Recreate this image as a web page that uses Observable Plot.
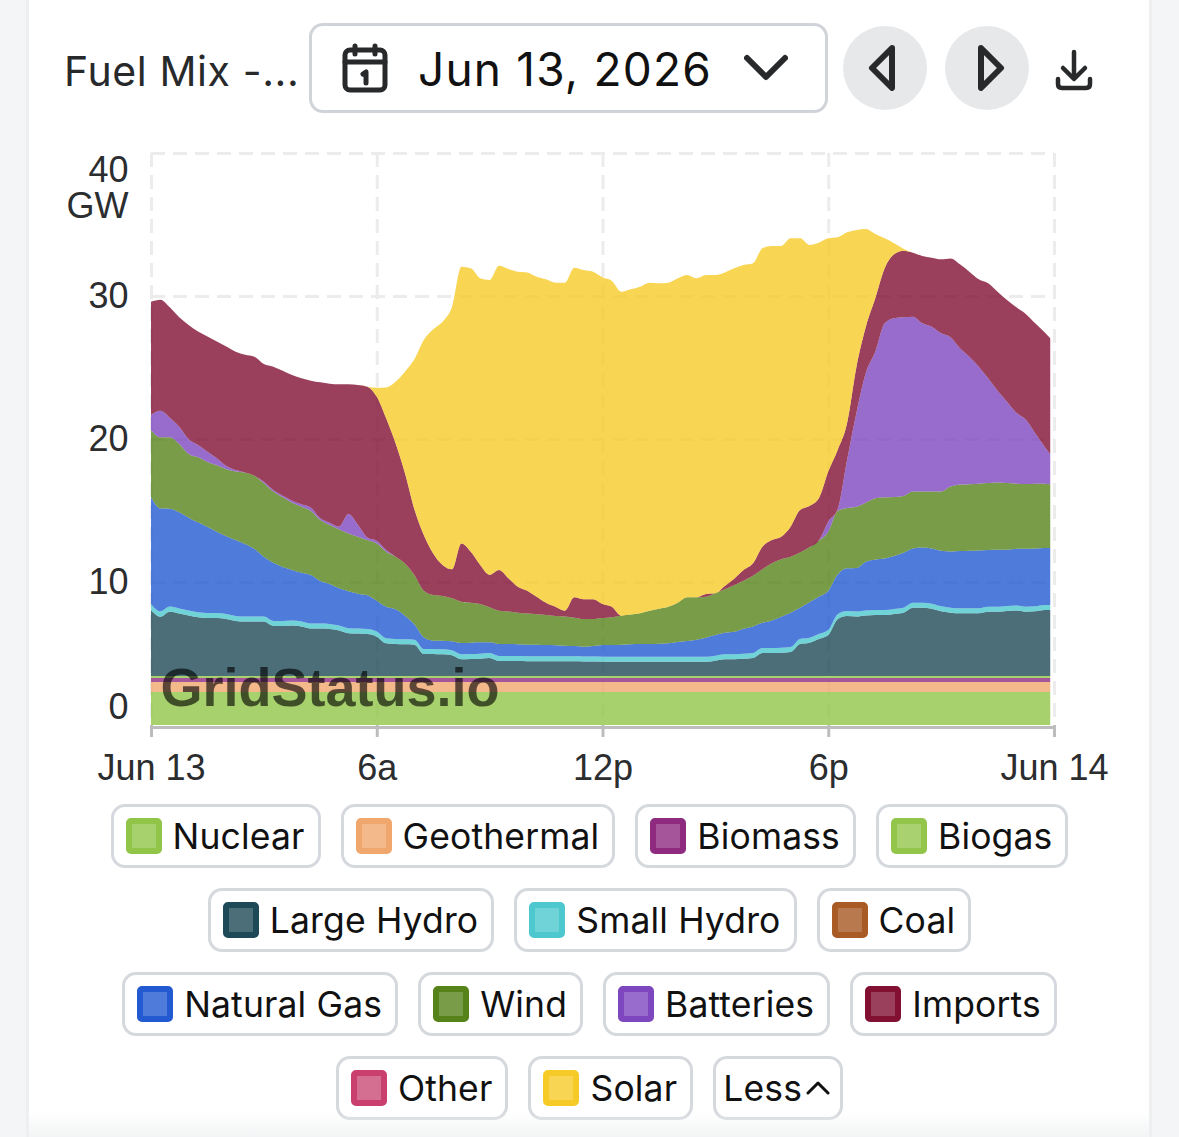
<!DOCTYPE html>
<html><head><meta charset="utf-8">
<script src="https://cdn.jsdelivr.net/npm/d3@7"></script>
<script src="https://cdn.jsdelivr.net/npm/@observablehq/plot@0.6"></script>
<style>
html,body{margin:0;padding:0;background:#f4f5f6;overflow:hidden;width:1179px;height:1137px}
#card{position:absolute;left:26px;top:-30px;width:1126px;height:1300px;background:#fff;border:3px solid #eeeff0;border-radius:26px;box-sizing:border-box}
#fade{position:absolute;left:29px;top:1112px;width:1120px;height:25px;background:linear-gradient(#fff0,#f3f4f5)}
#page{position:relative;width:1179px}
#header{position:relative;height:130px;color:#27292b;font-family:Inter,sans-serif}
#title{position:absolute;left:64px;top:46px;font-size:41px;line-height:50px;white-space:nowrap;letter-spacing:.6px}
#date{position:absolute;left:309px;top:23px;width:519px;height:90px;box-sizing:border-box;border:3px solid #d0d4d9;border-radius:14px}
#dateText{position:absolute;left:418px;top:41px;font-size:46px;line-height:56px;color:#111;white-space:nowrap;letter-spacing:1.2px}
.round{position:absolute;top:26px;width:84px;height:84px;border-radius:50%;background:#e7e8ea}
.icon{position:absolute;fill:none;stroke:#27292b;stroke-width:5;stroke-linecap:round;stroke-linejoin:round}
#chart{margin:0}
#chart svg{display:block}
#legend{margin:14px auto 0;width:1000px;display:flex;flex-wrap:wrap;justify-content:center;gap:20px;font-family:Inter,sans-serif;color:#111}
.pill{box-sizing:border-box;height:64px;border:3px solid #d5d8dd;border-radius:14px;display:flex;align-items:center;padding:0 13px 0 12px;font-size:35.5px;letter-spacing:.15px;gap:11px;white-space:nowrap;background:#fff}
.sw{box-sizing:border-box;width:36px;height:36px;border-radius:5px;border-style:solid;border-width:6px}
</style></head><body>
<div id="card"></div>
<div id="page">
  <div id="header">
    <div id="title">Fuel Mix -...</div>
    <div id="date"></div>
    <svg class="icon" style="left:342px;top:43px" width="46" height="50" viewBox="0 0 46 50"><rect x="3" y="7" width="40" height="40" rx="5"/><path d="M3 19H43M13 3V11M33 3V11M21 31l3-2V40"/></svg>
    <div id="dateText">Jun 13, 2026</div>
    <svg class="icon" style="left:744px;top:54px;stroke-width:6" width="44" height="28" viewBox="0 0 44 28"><path d="M3 4L22 23L41 4"/></svg>
    <div class="round" style="left:843px"></div>
    <svg class="icon" style="left:868px;top:45px;stroke-width:6" width="30" height="46" viewBox="0 0 30 46"><path d="M24 3L4 23L24 43Z"/></svg>
    <div class="round" style="left:945px"></div>
    <svg class="icon" style="left:975px;top:45px;stroke-width:6" width="30" height="46" viewBox="0 0 30 46"><path d="M6 3L26 23L6 43Z"/></svg>
    <svg class="icon" style="left:1054px;top:48px;stroke-width:4.5" width="42" height="44" viewBox="0 0 42 44"><path d="M20 4V30M9 20L20 31L31 20M4 31V36Q4 40 8 40H32Q36 40 36 36V31"/></svg>
  </div>
  <div id="chart"></div>
  <div id="legend"></div>
</div>
<div id="fade"></div>
<script>
// Time of each reading, hours after midnight on Jun 13 (quarter-hourly, last reading 23:54)
const hours = [
0,.25,.5,.75,1,1.25,1.5,1.75,2,2.25,2.5,2.75,
3,3.25,3.5,3.75,4,4.25,4.5,4.75,5,5.25,5.5,5.75,
6,6.25,6.5,6.75,7,7.25,7.5,7.75,8,8.25,8.5,8.75,
9,9.25,9.5,9.75,10,10.25,10.5,10.75,11,11.25,11.5,11.75,
12,12.25,12.5,12.75,13,13.25,13.5,13.75,14,14.25,14.5,14.75,
15,15.25,15.5,15.75,16,16.25,16.5,16.75,17,17.25,17.5,17.75,
18,18.25,18.5,18.75,19,19.25,19.5,19.75,20,20.25,20.5,20.75,
21,21.25,21.5,21.75,22,22.25,22.5,22.75,23,23.25,23.5,23.75,
23.9];

// Flat or thin generation layers, GW
const nuclear = [
2.3,2.3,2.3,2.3,2.3,2.3,2.3,2.3,2.3,2.3,2.3,2.3,2.3,2.3,2.3,2.3,2.3,2.3,2.3,2.3,2.3,2.3,2.3,2.3,
2.3,2.3,2.3,2.3,2.3,2.3,2.3,2.3,2.3,2.3,2.3,2.3,2.3,2.3,2.3,2.3,2.3,2.3,2.3,2.3,2.3,2.3,2.3,2.3,
2.3,2.3,2.3,2.3,2.3,2.3,2.3,2.3,2.3,2.3,2.3,2.3,2.3,2.3,2.3,2.3,2.3,2.3,2.3,2.3,2.3,2.3,2.3,2.3,
2.3,2.3,2.3,2.3,2.3,2.3,2.3,2.3,2.3,2.3,2.3,2.3,2.3,2.3,2.3,2.3,2.3,2.3,2.3,2.3,2.3,2.3,2.3,2.3,
2.3];
const geothermal = [
.7,.7,.7,.7,.7,.7,.7,.7,.7,.7,.7,.7,.7,.7,.7,.7,.7,.7,.7,.7,.7,.7,.7,.7,
.7,.7,.7,.7,.7,.7,.7,.7,.7,.7,.7,.7,.7,.7,.7,.7,.7,.7,.7,.7,.7,.7,.7,.7,
.7,.7,.7,.7,.7,.7,.7,.7,.7,.7,.7,.7,.7,.7,.7,.7,.7,.7,.7,.7,.7,.7,.7,.7,
.7,.7,.7,.7,.7,.7,.7,.7,.7,.7,.7,.7,.7,.7,.7,.7,.7,.7,.7,.7,.7,.7,.7,.7,
.7];
const biomass = [
.28,.28,.28,.28,.28,.28,.28,.28,.28,.28,.28,.28,.28,.28,.28,.28,.28,.28,.28,.28,.28,.28,.28,.28,
.28,.28,.28,.28,.28,.28,.28,.28,.28,.28,.28,.28,.28,.28,.28,.28,.28,.28,.28,.28,.28,.28,.28,.28,
.28,.28,.28,.28,.28,.28,.28,.28,.28,.28,.28,.28,.28,.28,.28,.28,.28,.28,.28,.28,.28,.28,.28,.28,
.28,.28,.28,.28,.28,.28,.28,.28,.28,.28,.28,.28,.28,.28,.28,.28,.28,.28,.28,.28,.28,.28,.28,.28,
.28];
const biogas = [
.15,.15,.15,.15,.15,.15,.15,.15,.15,.15,.15,.15,.15,.15,.15,.15,.15,.15,.15,.15,.15,.15,.15,.15,
.15,.15,.15,.15,.15,.15,.15,.15,.15,.15,.15,.15,.15,.15,.15,.15,.15,.15,.15,.15,.15,.15,.15,.15,
.15,.15,.15,.15,.15,.15,.15,.15,.15,.15,.15,.15,.15,.15,.15,.15,.15,.15,.15,.15,.15,.15,.15,.15,
.15,.15,.15,.15,.15,.15,.15,.15,.15,.15,.15,.15,.15,.15,.15,.15,.15,.15,.15,.15,.15,.15,.15,.15,
.15];
const smallHydro = [
.42,.38,.36,.35,.35,.35,.35,.35,.35,.35,.35,.35,.35,.35,.35,.35,.35,.35,.35,.35,.35,.35,.35,.35,
.35,.35,.35,.35,.35,.35,.35,.35,.35,.35,.35,.35,.35,.35,.35,.35,.35,.35,.35,.35,.35,.35,.35,.35,
.35,.35,.35,.35,.35,.35,.35,.35,.35,.35,.35,.35,.35,.35,.35,.35,.35,.35,.35,.35,.35,.35,.35,.35,
.35,.35,.35,.35,.35,.35,.35,.35,.35,.35,.35,.35,.35,.35,.35,.35,.35,.35,.35,.35,.35,.35,.35,.35,
.35];

// Upper edge of each remaining layer, GW (0 = layer absent at that time)
const largeHydroTop = [
8.04,7.57,7.92,7.8,7.65,7.53,7.48,7.48,7.41,7.27,7.23,7.23,
7.23,6.93,6.93,6.95,6.88,6.74,6.74,6.71,6.6,6.41,6.39,6.36,
6.18,5.71,5.66,5.64,5.62,4.97,4.97,4.94,4.87,4.59,4.61,4.64,
4.68,4.47,4.47,4.47,4.46,4.46,4.46,4.46,4.45,4.45,4.44,4.44,
4.43,4.43,4.43,4.43,4.43,4.43,4.43,4.43,4.43,4.43,4.43,4.43,
4.5,4.59,4.59,4.63,4.68,5.03,5.03,5.05,5.1,5.66,5.75,6.01,
6.29,7.39,7.62,7.58,7.65,7.69,7.69,7.76,7.85,8.2,8.2,8.13,
7.95,7.85,7.81,7.81,7.81,7.92,7.92,7.97,8,7.92,7.95,8.04,
8.04];
const naturalGasTop = [
15.97,15.15,15.13,14.87,14.5,14.17,13.85,13.52,13.2,12.94,12.66,12.31,
11.77,11.35,11.05,10.84,10.65,10.49,10.07,9.86,9.56,9.35,9.18,9.07,
8.69,8.27,8.09,7.64,7.04,6.13,5.9,5.9,5.85,5.73,5.76,5.78,
5.78,5.66,5.66,5.64,5.62,5.62,5.59,5.58,5.55,5.52,5.48,5.52,
5.59,5.6,5.62,5.64,5.66,5.66,5.68,5.71,5.8,5.87,5.97,6.11,
6.29,6.45,6.52,6.73,6.89,7.15,7.31,7.57,7.85,8.2,8.58,8.97,
9.39,10.53,10.96,10.98,11.42,11.58,11.65,11.82,12.05,12.35,12.42,12.35,
12.19,12.14,12.17,12.19,12.21,12.24,12.26,12.26,12.33,12.33,12.35,12.38,
12.38];
const windTop = [
20.63,20.12,20.12,19.65,18.95,18.72,18.39,18.16,17.88,17.72,17.64,17.43,
16.9,16.32,15.92,15.55,15.27,14.97,14.34,13.99,13.68,13.4,13.17,12.94,
12.7,12.12,11.77,11.3,10.49,9.39,9.09,9.02,8.86,8.62,8.55,8.46,
8.23,7.99,7.93,7.85,7.79,7.74,7.69,7.62,7.58,7.5,7.41,7.41,
7.48,7.53,7.64,7.72,7.81,7.99,8.13,8.27,8.55,8.93,8.93,8.97,
9.21,9.49,9.77,10.09,10.44,10.89,11.31,11.59,11.77,12.07,12.43,12.89,
13.52,14.97,15.17,15.27,15.55,15.85,15.92,15.94,16.01,16.32,16.32,16.32,
16.32,16.67,16.81,16.83,16.87,16.92,16.95,16.92,16.87,16.85,16.87,16.87,
16.83];
const batteriesTop = [
21.68,21.98,21.49,20.86,19.98,19.58,19.11,18.65,18.11,17.83,17.65,17.43,
17.01,16.43,16.04,15.69,15.43,15.2,14.45,14.15,13.87,14.75,13.99,13.12,
12.89,12.24,0,0,0,0,0,0,0,0,0,0,
0,0,0,0,0,0,0,0,0,0,0,0,
0,0,0,0,0,0,0,0,0,0,0,0,
0,0,0,0,0,0,0,0,0,0,0,12.9,
14.22,15.08,18.53,21.84,24.64,26.1,28.09,28.44,28.51,28.55,28.09,27.85,
27.39,27.11,26.34,25.76,25.06,24.24,23.38,22.61,21.84,21.37,20.4,19.46,
18.93];
const importsTop = [
29.6,29.74,29.21,28.51,27.97,27.51,27.16,26.81,26.46,26.11,25.9,25.76,
25.24,25.06,24.78,24.48,24.24,24.08,23.96,23.87,23.82,23.82,23.78,23.66,
22.96,21.45,19.7,17.6,15.08,13.29,12,11.19,10.89,12.7,12.12,11.19,
10.5,10.84,10.26,9.67,9.39,8.97,8.55,8.27,7.99,8.93,8.79,8.79,
8.46,8.27,0,0,0,0,0,0,0,0,0,9.16,
0,9.72,10.23,10.84,11.31,12.47,12.94,13.17,13.87,15.03,15.31,15.85,
17.72,19.23,21.1,25.06,27.85,29.84,31.94,32.92,33.17,33.03,32.8,32.68,
32.57,32.63,32.22,31.7,31.17,30.89,30.3,29.72,29.21,28.74,28.09,27.46,
27.04];
const solarTop = [
0,0,0,0,0,0,0,0,0,0,0,0,
0,0,0,0,0,0,0,0,0,0,0,0,
23.59,23.61,24.01,24.71,25.57,26.92,27.67,28.2,29.25,32.05,31.94,31.24,
31.12,32.12,31.89,31.7,31.65,31.35,31.17,30.93,30.93,31.98,31.82,31.7,
31.31,31.05,30.3,30.47,30.65,30.93,30.89,30.93,31.24,31.47,31.24,31.47,
31.47,31.65,31.94,32.17,32.29,33.34,33.5,33.5,34.03,34.03,33.57,33.73,
34.03,34.1,34.45,34.62,34.69,34.34,34.03,33.69,33.31,0,0,0,
0,0,0,0,0,0,0,0,0,0,0,0,
0];

const fuels = ["Nuclear","Geothermal","Biomass","Biogas","Large Hydro","Small Hydro","Coal","Natural Gas","Wind","Batteries","Imports","Other","Solar"];
const lineColors = ["#91c548","#f0a76e","#8e2b80","#93c54b","#1e4a58","#4cc8ce","#a85b24","#235ad2","#568319","#7e47bf","#821033","#c9406f","#f6cb27"];
const xTicks = [0,6,12,18,24];
const xTickLabels = ["Jun 13","6a","12p","6p","Jun 14"];

// Turn the read edges into layer values
const baseLayers = {Nuclear:nuclear,Geothermal:geothermal,Biomass:biomass,Biogas:biogas};
const rows = [];
hours.forEach((hour,i)=>{
  let sum = 0;
  const push = (fuel,v)=>{rows.push({hour,fuel,value:v});sum+=v;};
  for (const k in baseLayers) push(k,baseLayers[k][i]);
  push("Large Hydro",Math.max(0,largeHydroTop[i]-sum));
  push("Small Hydro",smallHydro[i]);
  push("Coal",0);
  push("Natural Gas",Math.max(0,naturalGasTop[i]-sum));
  push("Wind",Math.max(0,windTop[i]-sum));
  push("Batteries",Math.max(0,batteriesTop[i]-sum));
  push("Imports",Math.max(0,importsTop[i]-sum));
  push("Other",0);
  push("Solar",Math.max(0,solarTop[i]-sum));
});

const axisFont = {fontSize:36,fill:"#2b2d2f"};
const chart = Plot.plot({
  width:1179,height:660,marginLeft:151,marginRight:125,marginTop:23,marginBottom:65,
  style:{fontFamily:"'Liberation Sans',sans-serif",fontSize:"36px",background:"transparent",overflow:"visible"},
  x:{domain:[0,24]},
  y:{domain:[0,40]},
  color:{domain:fuels,range:lineColors},
  marks:[
    Plot.gridX(xTicks,{stroke:"#ececec",strokeOpacity:1,strokeWidth:3,strokeDasharray:"14 8"}),
    Plot.gridY([10,20,30,40],{stroke:"#ececec",strokeOpacity:1,strokeWidth:3,strokeDasharray:"14 8"}),
    Plot.areaY(rows,{x:"hour",y:"value",z:"fuel",fill:"fuel",fillOpacity:.8,order:fuels,curve:"monotone-x"}),
    Plot.ruleY([0],{stroke:"#bdbdbd",strokeWidth:3,dy:2}),
    Plot.axisX({ticks:xTicks,tickFormat:d=>xTickLabels[xTicks.indexOf(d)],tickSize:12,tickPadding:17,stroke:"#bdbdbd",strokeWidth:3,label:null,...axisFont}),
    Plot.axisY({ticks:[10,20,30],tickSize:0,tickPadding:23,label:null,...axisFont}),
    Plot.axisY({ticks:[0],tickSize:0,tickPadding:23,label:null,dy:-18,...axisFont}),
    Plot.axisY({ticks:[40],tickSize:0,tickPadding:23,label:null,dy:17,...axisFont}),
    Plot.axisY({ticks:[40],tickFormat:()=>"GW",tickSize:0,tickPadding:23,label:null,dy:53,...axisFont}),
    Plot.text(["GridStatus.io"],{frameAnchor:"bottom-left",dx:9,dy:-20,fontSize:54,fontWeight:"bold",fill:"#000",fillOpacity:.62})
  ]
});
document.getElementById("chart").append(chart);

// Legend
const swatchFills = ["#a7d16d","#f3b98b","#a5559a","#a9d16f","#4b6e79","#70d3d8","#b9794f","#4f7bdb","#789c47","#986ccc","#9b405c","#d46f92","#f8d552"];
const legend = document.getElementById("legend");
fuels.forEach((f,i)=>{
  const p=document.createElement("div");p.className="pill";
  p.innerHTML=`<span class="sw" style="background:${swatchFills[i]};border-color:${lineColors[i]}"></span><span>${f}</span>`;
  legend.append(p);
});
const less=document.createElement("div");less.className="pill";less.style.gap="4px";less.style.padding="0 10px 0 7px";
less.innerHTML=`<span>Less</span><svg width="24" height="16" viewBox="0 0 24 16" fill="none" stroke="#111" stroke-width="3" stroke-linecap="round" stroke-linejoin="round"><path d="M2 13L12 3L22 13"/></svg>`;
legend.append(less);
</script>
</body></html>
